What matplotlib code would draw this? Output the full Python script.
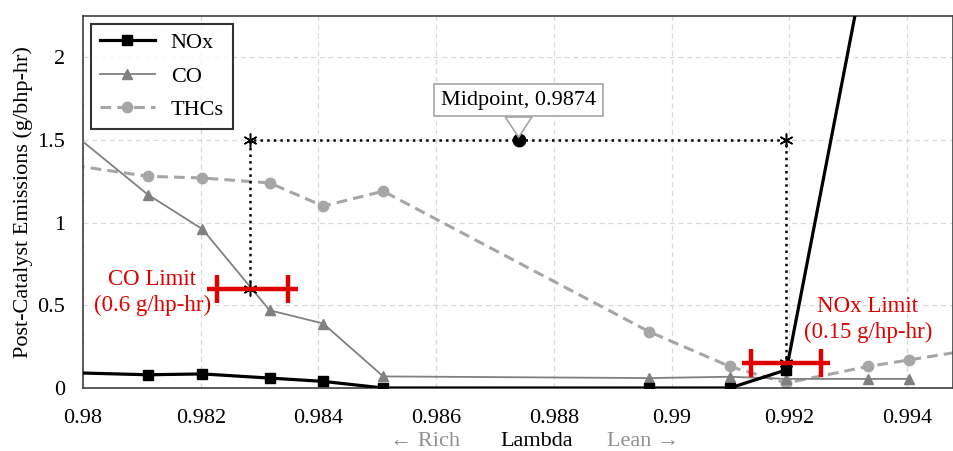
import matplotlib.pyplot as plt
import numpy as np

plt.rcParams['font.family'] = ['Liberation Serif', 'DejaVu Serif']

# data (first/last points lie just outside the axes)
lam = [0.9790, 0.98110, 0.98203, 0.98317, 0.98408, 0.98510, 0.98962, 0.99099, 0.99195, 0.99333, 0.99404]
nox = [0.10, 0.08, 0.085, 0.06, 0.04, 0.0, 0.0, 0.0, 0.11, 2.65, 3.5]
co = [1.78, 1.17, 0.96, 0.47, 0.39, 0.07, 0.06, 0.068, 0.055, 0.055, 0.055]
lam_thc = lam + [0.9956]
thc = [1.39, 1.28, 1.27, 1.24, 1.10, 1.19, 0.34, 0.13, 0.03, 0.13, 0.17, 0.26]

rich_x, lean_x = 0.98283, 0.99195
box_y = 1.5
co_lim, nox_lim = 0.6, 0.15
mid_x = 0.9874

co_bar = [0.98211, 0.98365]
co_caps = [0.98228, 0.98349]
nox_bar = [0.99119, 0.99269]
nox_caps = [0.99134, 0.99254]

fig = plt.figure(figsize=(9.54, 4.51), dpi=100)
ax = fig.add_axes([0.087, 0.1397, 0.912, 0.825])

ax.grid(True, color='#d9d9d9', linestyle=(0, (4, 3)), linewidth=0.9)
ax.set_axisbelow(True)

ax.plot(lam, nox, color='black', lw=2.3, marker='s', ms=6.5, label='NOx', zorder=4)
ax.plot(lam, co, color='#808080', lw=1.3, marker='^', ms=7.5, label='CO', zorder=3)
ax.plot(lam_thc, thc, color='#a6a6a6', lw=2.2, ls=(0, (3.5, 2)), marker='o', ms=7.5,
        label='THCs', zorder=2)

# dotted bracket between the limits
ax.plot([rich_x, rich_x, lean_x, lean_x], [co_lim, box_y, box_y, nox_lim],
        color='black', ls=':', lw=1.8, zorder=5)
ax.plot([rich_x, rich_x, lean_x, lean_x], [co_lim, box_y, box_y, nox_lim],
        ls='none', marker=(6, 2, 0), ms=10, mec='black', mew=1.1, zorder=6)

# limit bars
for bar, caps, y in [(co_bar, co_caps, co_lim), (nox_bar, nox_caps, nox_lim)]:
    ax.plot(bar, [y, y], color='#e00000', lw=3.2, solid_capstyle='butt', zorder=7)
    ax.plot(caps, [y, y], ls='none', marker='|', ms=20, mew=3.2, color='#e00000', zorder=7)

ax.plot([mid_x], [box_y], 'o', color='black', ms=9, zorder=8)
ax.annotate('Midpoint, 0.9874', xy=(mid_x, box_y), xytext=(mid_x, 1.74),
            ha='center', va='center', fontsize=16,
            bbox=dict(boxstyle='square,pad=0.3', fc='white', ec='#a6a6a6', lw=1.2),
            arrowprops=dict(arrowstyle='wedge,tail_width=1.2,shrink_factor=0.5',
                            fc='white', ec='#a6a6a6', lw=1.2, shrinkA=0, shrinkB=2),
            zorder=9)

ax.text(0.98118, 0.578, 'CO Limit\n(0.6 g/hp-hr)', color='#e00000', fontsize=16.5,
        ha='center', va='center', linespacing=1.3)
ax.text(0.99333, 0.417, 'NOx Limit\n(0.15 g/hp-hr)', color='#e00000', fontsize=16.5,
        ha='center', va='center', linespacing=1.3)

ax.set_xlim(0.98, 0.99478)
ax.set_ylim(0, 2.25)
ax.set_xticks(np.arange(0.98, 0.9948, 0.002))
ax.set_xticklabels(['0.98', '0.982', '0.984', '0.986', '0.988', '0.99', '0.992', '0.994'])
ax.set_yticks([0, 0.5, 1, 1.5, 2])
ax.set_yticklabels(['0', '0.5', '1', '1.5', '2'])
ax.tick_params(length=0, labelsize=16)
ax.tick_params(axis='x', pad=15)
ax.tick_params(axis='y', pad=13)
for s in ax.spines.values():
    s.set_color('#404040')
    s.set_linewidth(1.2)

ax.set_ylabel('Post-Catalyst Emissions (g/bhp-hr)', fontsize=16, labelpad=3)
fig.text(0.563, 0.02, 'Lambda', fontsize=16, ha='center', va='center')
fig.text(0.446, 0.02, '\u2190 Rich', fontsize=16, ha='center', va='center', color='#909090')
fig.text(0.674, 0.02, 'Lean \u2192', fontsize=16, ha='center', va='center', color='#909090')

leg = ax.legend(loc='upper left', fontsize=16, handlelength=2.5, handletextpad=0.7,
                frameon=True, fancybox=False, borderaxespad=0.35, labelspacing=0.58,
                borderpad=0.4)
leg.get_frame().set_edgecolor('black')
leg.get_frame().set_linewidth(1.5)

fig.savefig('out.png', dpi=100)
